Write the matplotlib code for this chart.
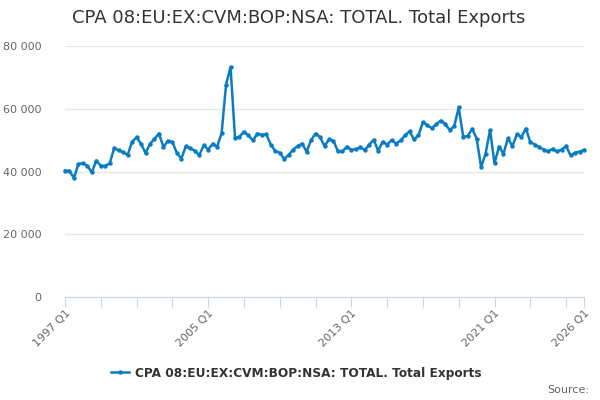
import matplotlib
matplotlib.use("Agg")
from matplotlib import pyplot as plt
from matplotlib.ticker import FuncFormatter, FixedLocator
from matplotlib.lines import Line2D

# quarterly values 1997 Q1 .. 2026 Q1
values = [
    40300, 40200, 37900, 42400,  # 1997
    42600, 41800, 39700, 43500,  # 1998
    41800, 41800, 42600, 47500,  # 1999
    46700, 46200, 45300, 49500,  # 2000
    50900, 48800, 45900, 48800,  # 2001
    50400, 52100, 47800, 49800,  # 2002
    49400, 45900, 44100, 48000,  # 2003
    47500, 46600, 45200, 48300,  # 2004
    47000, 48800, 47900, 52200,  # 2005
    67700, 73300, 50700, 51100,  # 2006
    52700, 51500, 49900, 52100,  # 2007
    51700, 51800, 48600, 46500,  # 2008
    46000, 44000, 45300, 47000,  # 2009
    48100, 48900, 46300, 50000,  # 2010
    52100, 51000, 48100, 50200,  # 2011
    49800, 46400, 46400, 47900,  # 2012
    46900, 47100, 47700, 46800,  # 2013
    48600, 50100, 46600, 49500,  # 2014
    48600, 50000, 48900, 49900,  # 2015
    51500, 52800, 50200, 51500,  # 2016
    55700, 54700, 53800, 55100,  # 2017
    56200, 55100, 53200, 54500,  # 2018
    60400, 51100, 51300, 53600,  # 2019
    50500, 41400, 45700, 53200,  # 2020
    42600, 47900, 45700, 50600,  # 2021
    48100, 51900, 51000, 53700,  # 2022
    49400, 48600, 47700, 47000,  # 2023
    46400, 47200, 46400, 47000,  # 2024
    48100, 45100, 46000, 46300,  # 2025
    46900,                       # 2026
]
first_year = 1997
label_years = [1997, 2005, 2013, 2021, 2026]
tick_years = list(range(1997, 2026, 2)) + [2026]
series_name = "CPA 08:EU:EX:CVM:BOP:NSA: TOTAL. Total Exports"

line_color = "#0a7dc2"
x = list(range(len(values)))

fig = plt.figure(figsize=(6, 4), dpi=100)
ax = fig.add_axes([65/600, 1 - 297/400, (584 - 65)/600, (297 - 46)/400])

ax.plot(x, values, color=line_color, lw=1.8, marker="o", ms=2.2, clip_on=False, zorder=3)

ax.set_xlim(0, len(values) - 1)
ax.set_ylim(0, 80000)
ax.set_yticks([0, 20000, 40000, 60000, 80000])
ax.yaxis.set_major_formatter(FuncFormatter(lambda v, p: f"{int(v):,}".replace(",", " ")))
ax.grid(axis="y", color="#e6e6e6", lw=1)
ax.set_axisbelow(True)

ax.xaxis.set_major_locator(FixedLocator([(y - first_year) * 4 for y in tick_years]))
ax.set_xticklabels([f"{y} Q1" if y in label_years else "" for y in tick_years],
                   rotation=45, ha="right", rotation_mode="anchor")

for s in ["top", "right", "left"]:
    ax.spines[s].set_visible(False)
ax.spines["bottom"].set_color("#ccd6eb")
ax.tick_params(axis="x", colors="#ccd6eb", length=7.2, labelcolor="#666666", labelsize=8, pad=1)
ax.tick_params(axis="y", length=0, labelcolor="#666666", labelsize=8, pad=17)

fig.text(0.497, 1 - 18/400, series_name, ha="center", va="center", fontsize=13, color="#333333")

handle = Line2D([], [], color=line_color, lw=1.8, marker="o", ms=2.2)
fig.legend([handle], [series_name], loc="center", bbox_to_anchor=(0.494, 1 - 373/400),
           frameon=False, prop={"size": 8.7, "weight": "bold"}, labelcolor="#333333",
           handlelength=1.5, handletextpad=0.5)

fig.text(0.982, 1 - 390/400, "Source:", ha="right", va="center", fontsize=8, color="#666666")

fig.savefig("out.png", dpi=100)
